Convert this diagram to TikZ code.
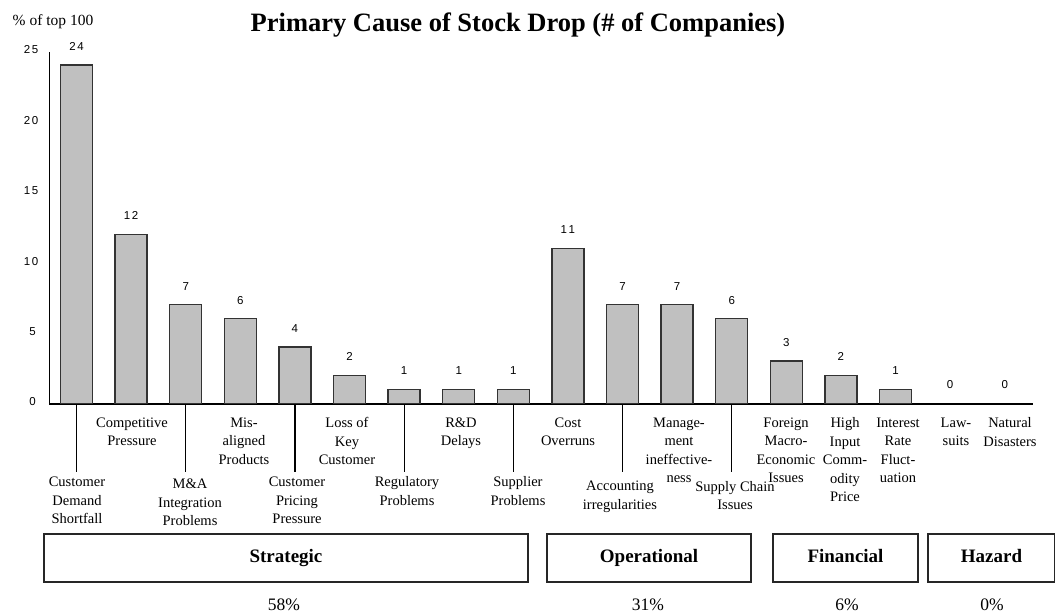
\documentclass[tikz,border=0pt]{standalone}
\usepackage{fontspec}
\setmainfont{Liberation Serif}
\newfontfamily\numfont{Liberation Sans}
\definecolor{barfill}{HTML}{C0C0C0}
\definecolor{barline}{HTML}{333333}
\newcommand{\dsp}{\kern1.6pt}
\begin{document}
\begin{tikzpicture}[x=1pt,y=-1pt,
  barbox/.style={draw=barline, fill=barfill, line width=1.3pt, inner sep=0pt, minimum width=32pt, anchor=south},
  vallab/.style={font=\numfont\fontsize{11.5}{13}\selectfont, inner sep=0pt},
  ylab/.style={font=\numfont\fontsize{11.5}{13}\selectfont, inner sep=0pt, anchor=east},
  catlab/.style={font=\fontsize{14.5}{18.5}\selectfont, align=center, inner sep=0pt, anchor=north},
  groupbox/.style={draw=black!85, line width=1.4pt, inner sep=0pt, text height=13pt, text depth=4pt, font=\bfseries\fontsize{19}{22}\selectfont},
  pctlab/.style={font=\fontsize{17.5}{20}\selectfont, inner sep=0pt, text height=12pt, text depth=0pt, anchor=base},
  axisline/.style={draw=black, line width=1.2pt},
  tickline/.style={draw=black, line width=1.2pt}]
\useasboundingbox (0,0) rectangle (1055,613);

% title and axis caption
\node[font=\bfseries\fontsize{26.5}{30}\selectfont, inner sep=0pt] (title) at (518,25) {Primary Cause of Stock Drop (\# of Companies)};
\node[font=\fontsize{15.5}{18}\selectfont, inner sep=0pt] (ycap) at (53,22) {\% of top 100};

% axes
\coordinate (ytop) at (49.5,52);
\coordinate (orig) at (49.5,404);
\coordinate (xend) at (1033,404);
\draw[axisline] (ytop) -- (orig) -- (xend);

% y tick labels
\node[ylab] (y25) at (38.5,50) {2\dsp5};
\node[ylab] (y20) at (38.5,120.5) {2\dsp0};
\node[ylab] (y15) at (38.5,191) {1\dsp5};
\node[ylab] (y10) at (38.5,261.5) {1\dsp0};
\node[ylab] (y5) at (36,332) {5};
\node[ylab] (y0) at (36,402) {0};

% bars
\foreach \i/\v/\t in {1/24/2\dsp4, 2/12/1\dsp2, 3/7/7, 4/6/6, 5/4/4, 6/2/2, 7/1/1, 8/1/1, 9/1/1,
                      10/11/1\dsp1, 11/7/7, 12/7/7, 13/6/6, 14/3/3, 15/2/2, 16/1/1, 17/0/0, 18/0/0} {
  \pgfmathsetmacro{\cx}{76.5+54.6*(\i-1)}
  \pgfmathsetmacro{\h}{14.1*\v}
  \pgfmathsetmacro{\ly}{404-\h-19}
  \ifnum\v>0
    \node[barbox, minimum height=\h pt] (bar\i) at (\cx,404) {};
  \fi
  \node[vallab] (val\i) at (\cx,\ly) {\t};
}

% hanging ticks
\foreach \i in {1,3,5,7,9,11,13} {
  \pgfmathsetmacro{\cx}{76.5+54.6*(\i-1)}
  \coordinate (ta\i) at (\cx,404);
  \coordinate (tb\i) at (\cx,472);
  \draw[tickline] (ta\i) -- (tb\i);
}

% category labels, upper row
\node[catlab] (c2) at (132,417.5) {Competitive\\Pressure};
\node[catlab] (c4) at (244,417.5) {Mis-\\aligned\\Products};
\node[catlab] (c6) at (347,417.5) {Loss of\\Key\\Customer};
\node[catlab] (c8) at (461,417.5) {R\&D\\Delays};
\node[catlab] (c10) at (568,417.5) {Cost\\Overruns};
\node[catlab] (c12) at (679,417.5) {Manage-\\ment\\ineffective-\\ness};
\node[catlab] (c14) at (786,417.5) {Foreign\\Macro-\\Economic\\Issues};
\node[catlab] (c15) at (845,417.5) {High\\Input\\Comm-\\odity\\Price};
\node[catlab] (c16) at (898,417.5) {Interest\\Rate\\Fluct-\\uation};
\node[catlab] (c17) at (956,417.5) {Law-\\suits};
\node[catlab] (c18) at (1010,417.5) {Natural\\Disasters};

% category labels, lower row
\node[catlab] (c1) at (77,476.7) {Customer\\Demand\\Shortfall};
\node[catlab] (c3) at (190,479) {M\&A\\Integration\\Problems};
\node[catlab] (c5) at (297,476.7) {Customer\\Pricing\\Pressure};
\node[catlab] (c7) at (407,476.7) {Regulatory\\Problems};
\node[catlab] (c9) at (518,476.7) {Supplier\\Problems};
\node[catlab] (c11) at (620,481) {Accounting\\irregularities};
\node[catlab] (c13) at (735,481) {Supply Chain\\Issues};

% group boxes
\node[groupbox, minimum width=484pt, minimum height=48pt] (gs) at (286,558) {Strategic};
\node[groupbox, minimum width=204pt, minimum height=48pt] (go) at (649,558) {Operational};
\node[groupbox, minimum width=145pt, minimum height=48pt] (gf) at (845.5,558) {Financial};
\node[groupbox, minimum width=127pt, minimum height=48pt] (gh) at (991.5,558) {Hazard};

% percentages
\node[pctlab] (ps) at (284,610) {58\%};
\node[pctlab] (po) at (648,610) {31\%};
\node[pctlab] (pf) at (847,610) {6\%};
\node[pctlab] (ph) at (992,610) {0\%};
\end{tikzpicture}
\end{document}
